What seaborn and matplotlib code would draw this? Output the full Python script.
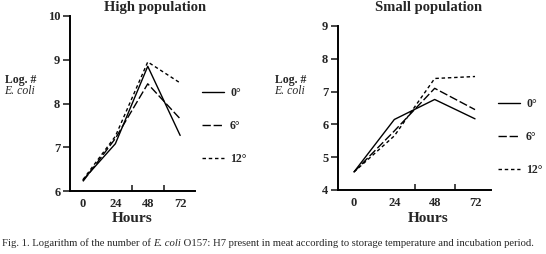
import matplotlib
matplotlib.use("Agg")
import matplotlib.pyplot as plt
from matplotlib.lines import Line2D
import pandas as pd
import seaborn as sns

# Data
hours = [0, 24, 48, 72]
temps = ["0°", "6°", "12°"]
high_0 = [6.25, 7.08, 8.85, 7.27]
high_6 = [6.22, 7.20, 8.45, 7.65]
high_12 = [6.26, 7.25, 8.95, 8.47]
small_0 = [4.55, 6.15, 6.76, 6.17]
small_6 = [4.55, 5.80, 7.10, 6.45]
small_12 = [4.55, 5.65, 7.40, 7.46]

def long_df(series):
    rows = []
    for t, vals in zip(temps, series):
        for h, v in zip(hours, vals):
            rows.append({"hours": h, "log": v, "temp": t})
    return pd.DataFrame(rows)

high = long_df([high_0, high_6, high_12])
small = long_df([small_0, small_6, small_12])

sns.set_style("white")
plt.rcParams["font.family"] = ["Liberation Serif", "DejaVu Serif"]

W, H = 546, 254
fig = plt.figure(figsize=(W / 100, H / 100), dpi=100)
ax1 = fig.add_axes([70 / W, 1 - 191 / H, 125 / W, 175 / H])
ax2 = fig.add_axes([338 / W, 1 - 190 / H, 153 / W, 164 / H])

dash_map = {"0°": "", "6°": (6, 2), "12°": (2.5, 2)}

panels = [
    # ax, data, title, ylim, xlim, title centre x, title y, "Hours" x, legend y (px)
    (ax1, high, "High population", (6, 10), (-9.6, 83), 155, 7, 132, 126),
    (ax2, small, "Small population", (4, 9), (-9.5, 81.5), 429, 8, 428, 137),
]

for ax, df, title, ylim, xlim, tx, ty, hx, ly in panels:
    sns.lineplot(data=df, x="hours", y="log", style="temp", dashes=dash_map,
                 color="black", linewidth=1.0, legend=False, ax=ax)
    ax.set_ylim(*ylim)
    ax.set_xlim(*xlim)
    ax.set_xticks(hours)
    ax.set_xticks([36, 60], minor=True)
    ax.set_yticks(range(ylim[0], ylim[1] + 1))
    ax.tick_params(axis="x", which="major", length=0, labelsize=9, pad=5)
    ax.tick_params(axis="x", which="minor", length=4, direction="in", width=1.2, bottom=True)
    ax.tick_params(axis="y", length=5, width=1.2, direction="out", left=True, labelsize=9, pad=2)
    for lab in ax.get_xticklabels() + ax.get_yticklabels():
        lab.set_fontweight("bold")
    sns.despine(ax=ax)
    for s in ["left", "bottom"]:
        ax.spines[s].set_linewidth(1.4)
        ax.spines[s].set_color("black")
    ax.set_xlabel("")
    ax.set_ylabel("")

    # title and x label, positioned as in the original
    fig.text(tx / W, 1 - ty / H, title, fontsize=10.5, fontweight="bold",
             ha="center", va="center")
    fig.text(hx / W, 1 - 218 / H, "Hours", fontsize=11, fontweight="bold",
             ha="center", va="center")

    pos = ax.get_position()
    handles = [Line2D([], [], color="black", lw=1.0,
                      dashes=dash_map[t] if dash_map[t] else (None, None))
               for t in temps]
    ax.legend(handles, temps, loc="center left",
              bbox_to_anchor=(pos.x1 + 2 / W, 1 - ly / H), bbox_transform=fig.transFigure,
              frameon=False, handlelength=1.9, handletextpad=0.5, borderaxespad=0,
              labelspacing=1.8, prop={"size": 8.5, "weight": "bold"})

# y-axis labels
for x0 in [5, 275]:
    fig.text(x0 / W, 1 - 80 / H, "Log. #", fontsize=8.5, fontweight="bold", va="center")
    fig.text((x0 - 1) / W, 1 - 91 / H, "E. coli", fontsize=8.5, fontstyle="italic", va="center")

# caption in three pieces so the species name can be italic in the same font
cap_parts = [("Fig. 1. Logarithm of the number of ", "normal"),
             ("E. coli", "italic"),
             (" O157: H7 present in meat according to storage temperature and incubation period.", "normal")]
fig.canvas.draw()
renderer = fig.canvas.get_renderer()
cx = 2 / W
for txt, style in cap_parts:
    t = fig.text(cx, 1 - 243 / H, txt, fontsize=7.7, fontstyle=style, va="center")
    bb = t.get_window_extent(renderer=renderer)
    cx += bb.width / fig.bbox.width

fig.savefig("out.png", dpi=100)
